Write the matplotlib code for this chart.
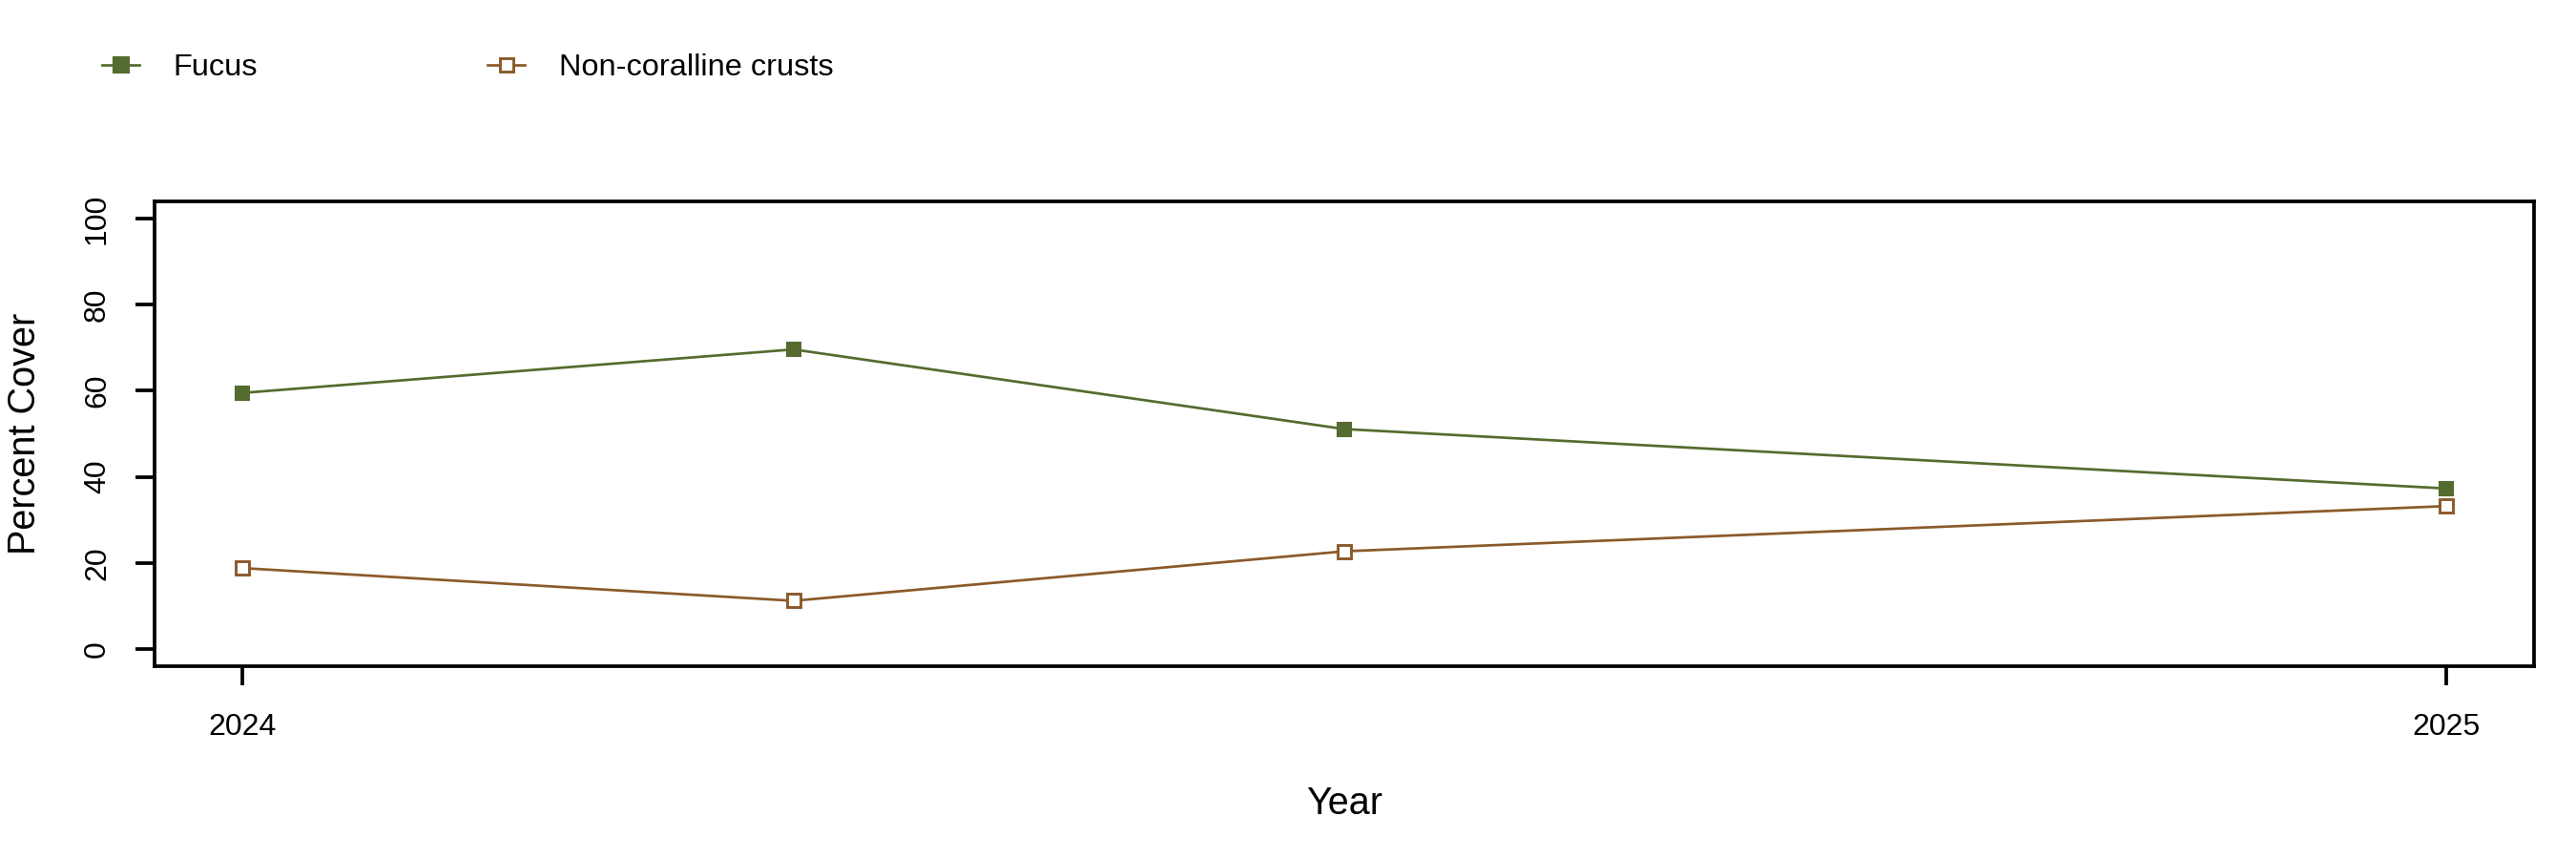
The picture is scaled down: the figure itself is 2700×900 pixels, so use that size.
import numpy as np
import matplotlib
matplotlib.use('Agg')
import matplotlib.pyplot as plt
from matplotlib.lines import Line2D

plt.rcParams['font.family'] = ['Liberation Sans', 'DejaVu Sans']

# survey times (decimal year) and percent cover
survey_time = [2024.0, 2024.25, 2024.5, 2025.0]
fucus = [59.5, 69.6, 51.1, 37.3]
crusts = [18.8, 11.2, 22.7, 33.2]
year_ticks = [2024, 2025]
y_ticks = [0, 20, 40, 60, 80, 100]

green = '#556B2F'
brown = '#8B5A2B'

fig = plt.figure(figsize=(9, 3), dpi=300)
ax = fig.add_axes([0.060, 0.2244, 0.9237, 0.5412])

ax.plot(survey_time, fucus, color=green, lw=0.65, marker='s', ms=3.5,
        mfc=green, mec=green, mew=0.5)
ax.plot(survey_time, crusts, color=brown, lw=0.65, marker='s', ms=3.5,
        mfc='white', mec=brown, mew=0.7)

# R-style 4% padding
ax.set_xlim(2023.96, 2025.04)
ax.set_ylim(-4, 104)
ax.set_xticks(year_ticks)
ax.set_xticklabels([str(y) for y in year_ticks])
ax.set_yticks(y_ticks)
ax.set_yticklabels([str(v) for v in y_ticks], rotation=90, va='center')
ax.tick_params(axis='both', direction='out', length=4.8, width=0.9,
               labelsize=7.7, color='black')
ax.tick_params(axis='x', pad=7)
ax.tick_params(axis='y', pad=6)
for s in ax.spines.values():
    s.set_linewidth(0.9)

ax.set_xlabel('Year', fontsize=9.5, labelpad=11)
ax.set_ylabel('Percent Cover', fontsize=9.5, labelpad=10)

# legend on top, two separate entries
handles = [
    Line2D([], [], color=green, lw=0.65, marker='s', ms=3.5, mfc=green, mec=green),
    Line2D([], [], color=brown, lw=0.65, marker='s', ms=3.5, mfc='white', mec=brown, mew=0.7),
]
names = ['Fucus', 'Non-coralline crusts']
for h, name, x0 in zip(handles, names, [107 / 2700, 511 / 2700]):
    fig.legend([h], [name], loc='center left', bbox_to_anchor=(x0, 0.921),
               frameon=False, fontsize=7.8, handlelength=1.2,
               handletextpad=1.1, borderpad=0, borderaxespad=0)

fig.savefig('out.png', dpi=300)
